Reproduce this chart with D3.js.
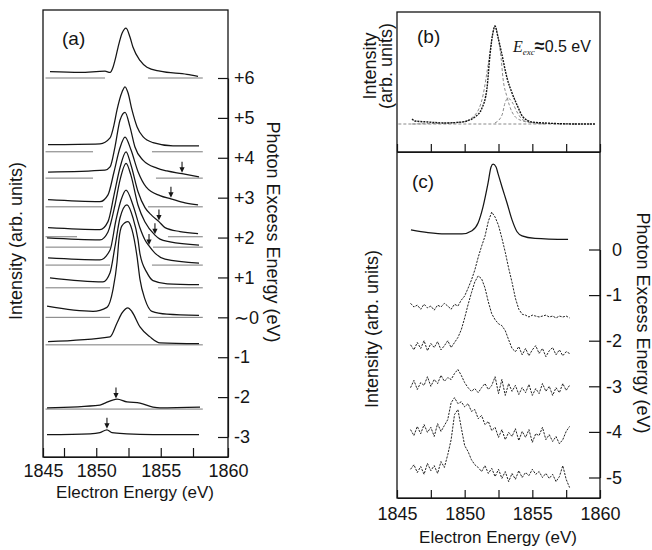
<!DOCTYPE html>
<html>
<head>
<meta charset="utf-8">
<script src="https://cdn.jsdelivr.net/npm/d3@7"></script>
<style>
  body { margin: 0; background: #fff; }
  svg { display: block; }
  text { font-family: "Liberation Sans", Arial, sans-serif; fill: #151515; }
</style>
</head>
<body>
<div id="chart"></div>
<script>
/************************
 *  Data
 ************************/
// panel (a): spectra as [electron energy (eV), intensity], stacked on the photon excess energy axis
const aTickEnergies = [1845, 1847.5, 1850, 1852.5, 1855, 1857.5, 1860];
const aExcessTicks = [6, 5, 4, 3, 2, 1, 0, -1, -2, -3];
const aExcessLabels = ["+6", "+5", "+4", "+3", "+2", "+1", "\u223C0", "-1", "-2", "-3"];
const aOffsets = [6.0, 4.15, 3.49, 2.77, 2.02, 1.76, 1.31, 0.74, 0.0, -0.69, -2.3, -2.97];
const aSpectra = [
  [[1845.83,0.16],[1848.74,0.14],[1850.68,0.17],[1851.07,0.14],[1851.30,0.27],[1851.45,0.44],[1851.69,0.77],[1852.0,1.12],[1852.31,1.25],[1852.62,1.02],[1852.85,0.77],[1853.39,0.44],[1853.93,0.27],[1854.94,0.17],[1857.03,0.09],[1857.86,0.04]],
  [[1845.6,0.18],[1850.29,0.2],[1851.07,0.35],[1851.38,0.68],[1851.61,1.05],[1852.0,1.5],[1852.23,1.63],[1852.46,1.48],[1852.77,1.05],[1853.16,0.63],[1853.62,0.38],[1854.40,0.23],[1855.95,0.15],[1857.93,0.15]],
  [[1845.6,0.15],[1850.68,0.2],[1851.07,0.28],[1851.45,0.78],[1851.84,1.45],[1852.23,1.65],[1852.62,1.28],[1853.0,0.78],[1853.62,0.45],[1854.71,0.25],[1855.48,0.18],[1856.65,0.11],[1857.93,0.03]],
  [[1845.6,0.18],[1850.29,0.13],[1850.91,0.3],[1851.38,0.88],[1851.84,1.48],[1852.23,1.75],[1852.69,1.43],[1853.24,0.88],[1853.86,0.5],[1854.94,0.28],[1855.79,0.2],[1856.88,0.1],[1857.86,0.05]],
  [[1845.6,0.23],[1850.29,0.18],[1850.91,0.38],[1851.38,1.05],[1851.84,1.73],[1852.31,2.13],[1852.69,1.8],[1853.24,1.13],[1853.78,0.73],[1854.32,0.53],[1854.86,0.38],[1855.33,0.23],[1856.49,0.13],[1857.86,0.08]],
  [[1845.48,0.23],[1850.29,0.18],[1850.91,0.38],[1851.45,1.05],[1851.84,1.68],[1852.31,2.1],[1852.69,1.8],[1853.24,1.05],[1853.78,0.63],[1854.55,0.3],[1854.94,0.2],[1855.72,0.13],[1857.93,0.05]],
  [[1845.6,0.18],[1850.29,0.13],[1851.07,0.38],[1851.53,1.13],[1851.92,1.63],[1852.31,1.88],[1852.85,1.5],[1853.39,0.93],[1853.78,0.63],[1854.09,0.48],[1854.55,0.3],[1855.33,0.15],[1857.93,0.05]],
  [[1845.83,0.25],[1850.52,0.15],[1851.07,0.38],[1851.45,1.03],[1851.84,1.75],[1852.38,2.08],[1852.85,1.75],[1853.24,1.2],[1853.39,0.85],[1853.93,0.38],[1854.40,0.18],[1855.5,0.1],[1857.93,0.08]],
  [[1845.48,0.28],[1849.75,0.15],[1850.83,0.25],[1851.30,0.7],[1851.61,1.38],[1851.76,1.95],[1852.0,2.3],[1852.46,2.4],[1852.77,2.2],[1853.16,1.53],[1853.39,0.95],[1853.78,0.45],[1854.32,0.15],[1855.48,0.08],[1857.93,0.05]],
  [[1845.6,0.08],[1851.07,0.2],[1851.61,0.55],[1852.0,0.8],[1852.46,0.93],[1852.77,0.83],[1853.39,0.45],[1854.17,0.2],[1854.94,0.05],[1857.93,0.03]],
  [[1845.48,0.03],[1850.29,0.1],[1850.68,0.15],[1851.61,0.25],[1852.38,0.18],[1853.39,0.15],[1854.40,0.05],[1854.94,0.03],[1858.0,0.05]],
  [[1845.48,0.03],[1849.52,0.05],[1850.29,0.08],[1850.83,0.15],[1851.22,0.08],[1852.38,0.05],[1854.40,0.03],[1857.93,0.03]]
];
// zero lines: [] = full width, [a, b] = broken between a and b, null = none
const aBaseExtent = [1845.3, 1858.2];
const aBaseGaps = [
  [1850.68, 1854.01], [1849.75, 1854.32], [1849.75, 1854.63], [1850.52, 1854.01],
  [1848.51, 1855.56], [1851.07, 1854.40], [1851.07, 1854.32], [1851.07, 1854.79],
  [1851.07, 1854.01], [], [], null
];
const aArrows = [
  { curve: 2, e: 1856.65 }, { curve: 3, e: 1855.79 }, { curve: 4, e: 1854.86 },
  { curve: 5, e: 1854.55 }, { curve: 6, e: 1854.09 }, { curve: 10, e: 1851.53 },
  { curve: 11, e: 1850.83 }
];

// panel (b): measured spectrum and the two fitted components
const bData = [[1846.11,0.05],[1846.33,0.03],[1847.29,0.02],[1848.55,0.01],[1849.80,0.02],[1850.76,0.07],[1851.28,0.16],[1851.65,0.36],[1851.87,0.69],[1852.10,0.92],[1852.24,0.98],[1852.46,0.87],[1852.76,0.69],[1853.13,0.46],[1853.50,0.31],[1853.87,0.19],[1854.31,0.07],[1854.98,0.02],[1855.94,0.01],[1858.38,0.0],[1859.63,0.0]];
const bFitMain = [[1846.1,0.0],[1849.80,0.02],[1850.76,0.09],[1851.36,0.29],[1851.73,0.59],[1852.10,0.92],[1852.24,0.98],[1852.46,0.87],[1852.69,0.66],[1852.83,0.46],[1853.13,0.27],[1853.50,0.12],[1854.09,0.04],[1855.20,0.01],[1858.38,0.0]];
const bFitSide = [[1852.24,0.01],[1852.76,0.09],[1852.98,0.21],[1853.20,0.26],[1853.50,0.22],[1853.87,0.12],[1854.31,0.04],[1855.20,0.01],[1856.0,0.0]];
const bBaseExtent = [1845.1, 1859.6];

// panel (c): spectra below threshold, stacked on the photon excess energy axis
const cTickEnergies = [1845, 1847.5, 1850, 1852.5, 1855, 1857.5, 1860];
const cExcessTicks = [0, -1, -2, -3, -4, -5];
const cTopOffset = 0.23;
const cTop = [[1846.03,0.2],[1847.29,0.14],[1848.55,0.11],[1849.80,0.11],[1850.54,0.18],[1850.99,0.35],[1851.36,0.71],[1851.73,1.23],[1851.95,1.58],[1852.10,1.64],[1852.32,1.58],[1852.46,1.44],[1852.76,1.14],[1853.13,0.79],[1853.50,0.42],[1853.87,0.16],[1854.24,0.07],[1855.20,0.015],[1857.64,-0.01]];
const cGrid = [1846.0,1846.25,1846.5,1846.75,1847.0,1847.25,1847.5,1847.75,1848.0,1848.25,1848.5,1848.75,1849.0,1849.25,1849.5,1849.75,1850.0,1850.25,1850.5,1850.75,1851.0,1851.25,1851.5,1851.75,1852.0,1852.25,1852.5,1852.75,1853.0,1853.25,1853.5,1853.75,1854.0,1854.25,1854.5,1854.75,1855.0,1855.25,1855.5,1855.75,1856.0,1856.25,1856.5,1856.75,1857.0,1857.25,1857.5,1857.75];
const cOffsets = [-1.46, -2.24, -3.07, -4.08, -5.0];
const cNoisy = [
  [0.28,0.2,0.24,0.15,0.26,0.18,0.22,0.13,0.24,0.2,0.28,0.22,0.15,0.26,0.22,
   0.35,0.44,0.61,0.79,1.01,1.29,1.53,1.75,2.08,2.28,2.17,1.99,1.71,1.4,1.05,0.74,0.39,0.15,
   0.04,0.02,-0.02,0.02,0,-0.02,0,0.02,-0.02,0,-0.04,0,-0.02,0,-0.04],
  [0.15,0.04,0.2,0.07,0.24,0.02,0.18,0.09,0.22,0.04,0.13,0.24,
   0.09,0.2,0.31,0.48,0.74,1.03,1.29,1.53,1.66,1.6,1.4,1.09,0.83,0.7,0.61,0.57,0.46,0.26,0.07,
   0,0.11,-0.07,0.07,-0.09,0.04,0.13,-0.04,0.07,-0.11,0.02,0.09,-0.07,0.04,-0.09,0,-0.04],
  [0.04,0.2,0,0.15,0.09,0.28,0.07,0.22,0.13,0.31,0.18,0.26,
   0.22,0.35,0.44,0.31,0.15,0.04,-0.04,0.02,-0.07,0.04,0.13,0,0.09,0.28,-0.09,0.22,-0.13,0.13,
   -0.04,0.09,-0.11,0.04,-0.07,0.11,-0.13,0.02,-0.09,0.13,-0.04,0.07,-0.13,0.04,-0.07,0.13,-0.02,0.09],
  [0.13,0,0.2,0.04,0.24,0.07,0.18,-0.02,0.26,0.09,0.22,0.35,
   0.72,0.83,0.7,0.74,0.63,0.7,0.53,0.57,0.37,0.44,0.24,0.31,0.11,0.18,-0.04,0.13,-0.09,0.07,
   -0.02,0.15,-0.11,0.09,-0.04,0.13,-0.15,0.04,0,0.18,-0.09,0.02,-0.13,-0.02,-0.18,-0.09,0.09,0.2],
  [0.18,0.28,0.11,0.24,0.07,0.31,0.15,0.26,0.09,0.35,0.22,0.5,
   0.83,1.38,1.49,1.09,0.7,0.57,0.39,0.28,0.22,0.13,0.26,0.09,0.2,0.02,0.18,-0.02,0.13,-0.09,
   0.09,-0.04,0.15,0,0.11,0.04,0.18,0.07,0.13,0,0.09,-0.02,0.07,-0.09,0.02,0.26,-0.04,-0.22]
];

/************************
 *  Setup
 ************************/
const width = 652, height = 550;
const ink = "#151515";

const svg = d3.select("#chart").append("svg")
  .attr("width", width).attr("height", height);

// panel (a) axis is drawn unevenly in the original: piecewise scale keeps the ticks where they are
const xA = d3.scaleLinear().domain([1845, 1847.5, 1857.5, 1860]).range([43, 64, 193, 228]);
const yA = d3.scaleLinear().domain([6, -3]).range([78, 437]);
const xC = d3.scaleLinear().domain([1845, 1860]).range([397, 600]);
const yB = d3.scaleLinear().domain([0, 1]).range([124, 24]);
const yC = d3.scaleLinear().domain([0, -5]).range([249.5, 477.5]);

function styleAxis(g, size) {
  g.attr("font-family", null).attr("font-size", null);
  g.selectAll("text").style("font-size", size + "px").style("fill", ink);
  g.selectAll("line, path").style("stroke", ink).style("stroke-width", 1.2);
}

function valueAt(spec, e) {
  const i = d3.bisector(d => d[0]).left(spec, e);
  const a = spec[Math.max(i - 1, 0)], b = spec[Math.min(i, spec.length - 1)];
  if (a === b) return a[1];
  const t = (e - a[0]) / (b[0] - a[0]);
  return a[1] + t * (b[1] - a[1]);
}

/************************
 *  Panel (a)
 ************************/
const gA = svg.append("g");

// zero lines
aBaseGaps.forEach((gap, i) => {
  if (gap === null) return;
  const segs = gap.length ? [[aBaseExtent[0], gap[0]], [gap[1], aBaseExtent[1]]] : [aBaseExtent];
  segs.forEach(s => {
    gA.append("line")
      .attr("x1", xA(s[0])).attr("x2", xA(s[1]))
      .attr("y1", yA(aOffsets[i])).attr("y2", yA(aOffsets[i]))
      .style("stroke", "#7a7a7a").style("stroke-width", 1);
  });
});

aSpectra.forEach((spec, i) => {
  const off = aOffsets[i];
  const line = d3.line().curve(d3.curveMonotoneX)
    .x(d => xA(d[0])).y(d => yA(off + d[1]));
  gA.append("path").datum(spec).attr("d", line)
    .style("fill", "none").style("stroke", ink).style("stroke-width", 1.25);
});

// satellite markers
aArrows.forEach(a => {
  const x = xA(a.e);
  const tip = yA(aOffsets[a.curve] + valueAt(aSpectra[a.curve], a.e)) - 1;
  gA.append("line").attr("x1", x).attr("x2", x).attr("y1", tip - 11).attr("y2", tip - 4)
    .style("stroke", ink).style("stroke-width", 1.1);
  gA.append("path").attr("d", `M${x - 2.6},${tip - 5.5}L${x + 2.6},${tip - 5.5}L${x},${tip}Z`)
    .style("fill", ink);
});

gA.append("rect").attr("x", 43).attr("y", 10).attr("width", 185).attr("height", 447)
  .style("fill", "none").style("stroke", ink).style("stroke-width", 1.3);

gA.append("g").attr("transform", "translate(0,457)")
  .call(d3.axisBottom(xA).tickValues(aTickEnergies).tickSize(-9).tickSizeOuter(0).tickPadding(7)
    .tickFormat(d => d % 5 === 0 ? d : ""))
  .call(g => styleAxis(g, 18));

gA.append("g").attr("transform", "translate(228,0)")
  .call(d3.axisRight(yA).tickValues(aExcessTicks).tickSize(-10).tickSizeOuter(0).tickPadding(6)
    .tickFormat((d, i) => aExcessLabels[i]))
  .call(g => styleAxis(g, 18));

gA.append("text").attr("x", 62).attr("y", 45).style("font-size", "19px").text("(a)");
gA.append("text").attr("x", 135).attr("y", 498).attr("text-anchor", "middle")
  .style("font-size", "17px").text("Electron Energy (eV)");
gA.append("text").attr("transform", "translate(22,241) rotate(-90)").attr("text-anchor", "middle")
  .style("font-size", "18px").text("Intensity (arb. units)");
gA.append("text").attr("transform", "translate(267,232) rotate(90)").attr("text-anchor", "middle")
  .style("font-size", "18px").text("Photon Excess Energy (eV)");

/************************
 *  Panel (b)
 ************************/
const gB = svg.append("g");
gB.append("line")
  .attr("x1", xC(bBaseExtent[0])).attr("x2", xC(bBaseExtent[1]))
  .attr("y1", yB(0)).attr("y2", yB(0))
  .style("stroke", "#8a8a8a").style("stroke-width", 1).style("stroke-dasharray", "3,2");

const lineB = d3.line().curve(d3.curveMonotoneX).x(d => xC(d[0])).y(d => yB(d[1]));
[bFitMain, bFitSide].forEach(fit => {
  gB.append("path").datum(fit).attr("d", lineB)
    .style("fill", "none").style("stroke", "#8a8a8a").style("stroke-width", 1)
    .style("stroke-dasharray", "3,2");
});
gB.append("path").datum(bData).attr("d", lineB)
  .style("fill", "none").style("stroke", ink).style("stroke-width", 1.4)
  .style("stroke-dasharray", "2,1");

gB.append("text").attr("x", 417).attr("y", 43).style("font-size", "19px").text("(b)");
const eText = gB.append("text").attr("x", 513).attr("y", 52).style("font-size", "16px");
eText.append("tspan").style("font-family", "'Liberation Serif', serif").style("font-style", "italic").text("E");
eText.append("tspan").attr("dy", 3).style("font-family", "'Liberation Serif', serif")
  .style("font-style", "italic").style("font-size", "9px").text("exc");
eText.append("tspan").attr("dy", -3).style("font-weight", "bold").style("font-size", "18px").text("≈");
eText.append("tspan").text("0.5 eV");

const bLabel = gB.append("text").attr("transform", "translate(376,66) rotate(-90)")
  .attr("text-anchor", "middle").style("font-size", "18px");
bLabel.append("tspan").attr("x", 0).text("Intensity");
bLabel.append("tspan").attr("x", 0).attr("dy", 16).text("(arb. units)");

/************************
 *  Panel (c)
 ************************/
const gC = svg.append("g");
const lineTop = d3.line().curve(d3.curveMonotoneX).x(d => xC(d[0])).y(d => yC(cTopOffset + d[1]));
gC.append("path").datum(cTop).attr("d", lineTop)
  .style("fill", "none").style("stroke", ink).style("stroke-width", 1.25);

// noisy spectra: thin broken strokes like the scanned point traces
cNoisy.forEach((vals, i) => {
  const off = cOffsets[i];
  const line = d3.line().x((d, j) => xC(cGrid[j])).y(d => yC(off + d));
  gC.append("path").datum(vals).attr("d", line)
    .style("fill", "none").style("stroke", "#222").style("stroke-width", 1)
    .style("stroke-dasharray", "2.2,1.2");
});

gC.append("text").attr("x", 412).attr("y", 188).style("font-size", "19px").text("(c)");

// frame for (b) and (c)
svg.append("rect").attr("x", 397).attr("y", 12).attr("width", 203).attr("height", 486)
  .style("fill", "none").style("stroke", ink).style("stroke-width", 1.3);
svg.append("line").attr("x1", 397).attr("x2", 600).attr("y1", 152).attr("y2", 152)
  .style("stroke", ink).style("stroke-width", 1.3);

svg.append("g").attr("transform", "translate(0,152)")
  .call(d3.axisBottom(xC).tickValues(cTickEnergies).tickSize(-8).tickSizeOuter(0).tickFormat(""))
  .call(g => styleAxis(g, 18));

svg.append("g").attr("transform", "translate(0,498)")
  .call(d3.axisBottom(xC).tickValues(cTickEnergies).tickSize(-8).tickSizeOuter(0).tickPadding(9)
    .tickFormat(d => d % 5 === 0 ? d : ""))
  .call(g => styleAxis(g, 18));

svg.append("g").attr("transform", "translate(600,0)")
  .call(d3.axisRight(yC).tickValues(cExcessTicks).tickSize(-11).tickSizeOuter(0).tickPadding(22)
    .tickFormat(d => d === 0 ? "0" : "-" + Math.abs(d)))
  .call(g => styleAxis(g, 18))
  .call(g => g.selectAll("text").attr("text-anchor", "end"));

gC.append("text").attr("x", 498).attr("y", 543).attr("text-anchor", "middle")
  .style("font-size", "17px").text("Electron Energy (eV)");
gC.append("text").attr("transform", "translate(378,329) rotate(-90)").attr("text-anchor", "middle")
  .style("font-size", "18px").text("Intensity (arb. units)");
gC.append("text").attr("transform", "translate(637,323) rotate(90)").attr("text-anchor", "middle")
  .style("font-size", "18px").text("Photon Excess Energy (eV)");
</script>
</body>
</html>
